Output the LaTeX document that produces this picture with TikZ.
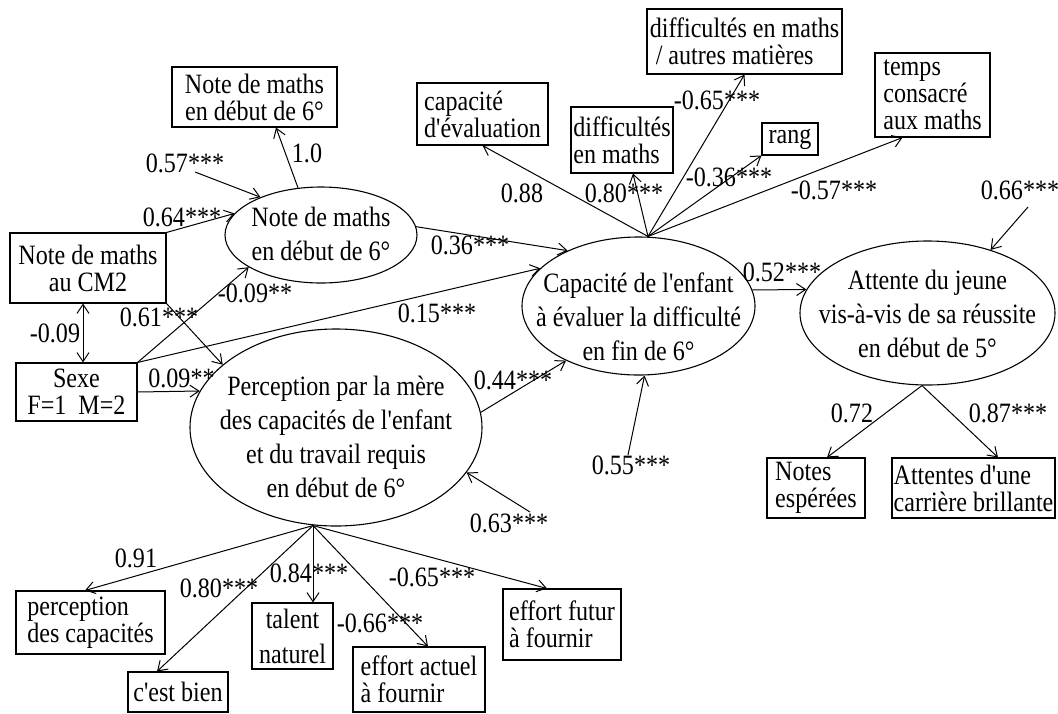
\documentclass[tikz,border=0pt]{standalone}
\usepackage{fontspec}
\setmainfont{Liberation Serif}[FakeStretch=0.86, Ligatures=TeXOff]
\usetikzlibrary{shapes.geometric,arrows.meta,calc}
\begin{document}
\begin{tikzpicture}[x=1pt,y=-1pt,
  box/.style={draw, line width=1.1pt, inner sep=0pt, font=\fontsize{28}{27}\selectfont},
  ell/.style={draw, ellipse, line width=1.1pt, inner sep=0pt},
  etxt/.style={inner sep=0pt, align=center, font=\fontsize{28}{34}\selectfont},
  lab/.style={inner sep=0pt, font=\fontsize{28}{28}\selectfont},
  arr/.style={line width=1pt, -{Straight Barb[length=9pt,width=12pt]}},
  dbl/.style={line width=1pt, {Straight Barb[length=9pt,width=12pt]}-{Straight Barb[length=9pt,width=12pt]}}
]
\fill[white] (0,0) rectangle (1058,713);
\useasboundingbox (0,0) rectangle (1058,713);

% boxes
\node[box, minimum width=165, minimum height=60, align=center] (top6) at (254.5,97) {Note de maths\\en début de 6°};
\node[box, minimum width=156, minimum height=70, align=center] (cm2) at (88,268) {Note de maths\\au CM2};
\node[box, minimum width=121, minimum height=58, align=center] (sexe) at (76.5,392) {Sexe\\F=1\ \ M=2};
\node[box, minimum width=131, minimum height=62, align=left] (capeval) at (482.5,114) {capacité\\d'évaluation};
\node[box, minimum width=102, minimum height=66, align=left] (diffm) at (622,140) {difficultés\\en maths};
\node[box, minimum width=195, minimum height=65, align=left] (diffa) at (744.5,41.5) {difficultés en maths\\\ / autres matières};
\node[box, minimum width=56, minimum height=32, align=center] (rang) at (790,139) {rang};
\node[box, minimum width=115, minimum height=84, align=left] (temps) at (932.5,95) {temps\\consacré\\aux maths};
\node[box, minimum width=98, minimum height=60, align=left] (notes) at (816,488) {Notes\\espérées};
\node[box, minimum width=163, minimum height=60, align=left] (carr) at (973.5,488) {Attentes d'une\\carrière brillante};
\node[box, minimum width=149, minimum height=63, align=left] (percap) at (90.5,622.5) {perception\\des capacités};
\node[box, minimum width=100, minimum height=40, align=center] (bien) at (178,692) {c'est bien};
\node[box, minimum width=81, minimum height=66, align=center, font=\fontsize{28}{35}\selectfont] (talent) at (292.5,636) {talent\\naturel};
\node[box, minimum width=132, minimum height=65, align=left] (actuel) at (419,679.5) {effort actuel\\à fournir};
\node[box, minimum width=118, minimum height=71, align=left] (futur) at (562,624.5) {effort futur\\à fournir};

% ellipses
\node[ell, minimum width=192, minimum height=96] (note6) at (321,235) {};
\node[etxt] (note6t) at (321,234) {Note de maths\\en début de 6°};
\node[ell, minimum width=233, minimum height=138] (cap) at (638.5,306) {};
\node[etxt] (capt) at (638.5,317) {Capacité de l'enfant\\à évaluer la difficulté\\en fin de 6°};
\node[ell, minimum width=255, minimum height=144] (att) at (927.5,313) {};
\node[etxt] (attt) at (927.5,314) {Attente du jeune\\vis-à-vis de sa réussite\\en début de 5°};
\node[ell, minimum width=292, minimum height=197] (perc) at (336,427.5) {};
\node[etxt] (perct) at (336,437) {Perception par la mère\\des capacités de l'enfant\\et du travail requis\\en début de 6°};

% free ends
\coordinate (e57) at (195,172);
\coordinate (e55) at (628,455);
\coordinate (e63) at (530,512);
\coordinate (e66) at (1028,207);
\coordinate (ct) at ([xshift=9.5pt]cap.north);
\coordinate (ab) at ([xshift=-5.5pt]att.south);
\coordinate (pb) at ([xshift=-23pt,yshift=1pt]perc.south);

% connectors
\draw[arr] (note6.116) -- ([xshift=21.5pt]top6.south);
\draw[arr] (e57) -- (note6.148);
\draw[arr] (cm2.north east) -- (note6.166);
\draw[arr] (cm2.south east) -- (perc.151);
\draw[dbl] ([xshift=-5pt]cm2.south) -- ([xshift=6.5pt]sexe.north);
\draw[arr] (sexe.north east) -- (note6.204);
\draw[arr] (sexe.north east) -- (cap.159);
\draw[arr] (sexe.east) -- (perc.165);
\draw[arr] (note6.5) -- (cap.142);
\draw[arr] (perc.6) -- (cap.217);
\draw[arr] (e55) -- (cap.275);
\draw[arr] (e63) -- (perc.341);
\draw[arr] (ct) -- (capeval.south);
\draw[arr] (ct) -- ([xshift=11pt]diffm.south);
\draw[arr] (ct) -- (diffa.south);
\draw[arr] (ct) -- (rang.south west);
\draw[arr] (ct) -- ([xshift=-30pt]temps.south);
\draw[arr] (cap.8) -- (att.169);
\draw[arr] (e66) -- (att.45);
\draw[arr] (ab) -- ([xshift=11pt]notes.north);
\draw[arr] (ab) -- ([xshift=24.5pt]carr.north);
\draw[arr] (pb) -- ([xshift=-5.5pt]percap.north);
\draw[arr] (pb) -- ([xshift=-21pt]bien.north);
\draw[arr] (pb) -- ([xshift=20.5pt]talent.north);
\draw[arr] (pb) -- ([xshift=9pt]actuel.north);
\draw[arr] (pb) -- ([xshift=-15pt]futur.north);

% labels
\node[lab] (l10) at (307,153) {1.0};
\node[lab] (l57) at (185,163) {0.57***};
\node[lab] (l64) at (182,217) {0.64***};
\node[lab] (l09a) at (55,333) {-0.09};
\node[lab] (l61) at (159,317) {0.61***};
\node[lab] (l09b) at (255,293) {-0.09**};
\node[lab] (l09c) at (181.5,378) {0.09**};
\node[lab] (l15) at (437,313) {0.15***};
\node[lab] (l36) at (470,245) {0.36***};
\node[lab] (l44) at (513,380) {0.44***};
\node[lab] (l55) at (631,465) {0.55***};
\node[lab] (l63) at (509,523) {0.63***};
\node[lab] (l88) at (522,193) {0.88};
\node[lab] (l80a) at (624,193) {0.80***};
\node[lab] (l65a) at (717,100) {-0.65***};
\node[lab] (l36b) at (729,177) {-0.36***};
\node[lab] (l57b) at (834,190) {-0.57***};
\node[lab] (l66) at (1020,190) {0.66***};
\node[lab] (l52) at (782,272) {0.52***};
\node[lab] (l72) at (852,413) {0.72};
\node[lab] (l87) at (1008,413) {0.87***};
\node[lab] (l91) at (136,558) {0.91};
\node[lab] (l80b) at (219,588) {0.80***};
\node[lab] (l84) at (309,573) {0.84***};
\node[lab] (l66b) at (380,623) {-0.66***};
\node[lab] (l65b) at (432,577) {-0.65***};
\end{tikzpicture}
\end{document}
